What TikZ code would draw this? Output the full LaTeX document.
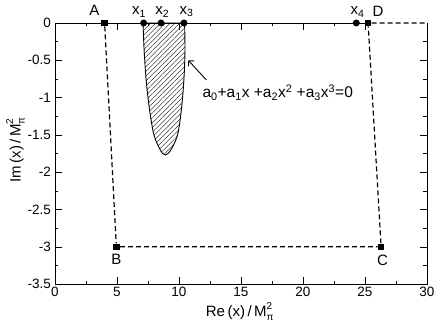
\documentclass[tikz,border=0pt]{standalone}
\usepackage{fontspec}
\setmainfont{Liberation Sans}
\usetikzlibrary{positioning,arrows.meta,patterns.meta}
\newcommand{\mpisq}{M\rlap{\raisebox{7.5pt}{\fontsize{10}{10}\selectfont 2}}\raisebox{-4pt}{\fontsize{10}{10}\selectfont π}}
\begin{document}
\begin{tikzpicture}[x=12.4pt,y=74.6pt,
  corner/.style={fill, rectangle, inner sep=0pt, minimum size=6.5pt},
  root/.style={fill, circle, inner sep=0pt, minimum size=7pt},
  lbl/.style={font=\fontsize{15}{17}\selectfont, inner sep=1pt},
  ticklbl/.style={font=\fontsize{13.5}{15}\selectfont, inner sep=0pt},
  contour/.style={dash pattern=on 5pt off 3pt, line width=1.2pt}]
\useasboundingbox (-4.435,-4.088) rectangle (30.726,0.308);
\draw[line width=0.9pt] (25.25,0) -- (0,0) -- (0,-3.5) -- (30,-3.5) -- (30,0);
\foreach \x in {0,5,...,30} \draw (\x,-3.5) -- ++(0,7pt);
\foreach \x in {2.5,7.5,...,27.5} \draw (\x,-3.5) -- ++(0,3.5pt);
\foreach \x in {5,10,...,25} \draw (\x,0) -- ++(0,-7pt);
\foreach \x in {2.5,7.5,...,22.5} \draw (\x,0) -- ++(0,-3.5pt);
\foreach \y in {-0.5,-1,...,-3} {
  \draw (0,\y) -- ++(7pt,0);
  \draw (30,\y) -- ++(-7pt,0);
}
\foreach \y in {-0.25,-0.75,...,-3.25} {
  \draw (0,\y) -- ++(3.5pt,0);
  \draw (30,\y) -- ++(-3.5pt,0);
}
\foreach \x in {0,5,...,30}
  \node[ticklbl, anchor=north, yshift=-3pt] (xt\x) at (\x,-3.5) {\x};
\foreach \y/\t [count=\i] in {0/0,-0.5/-0.5,-1/-1,-1.5/-1.5,-2/-2,-2.5/-2.5,-3/-3,-3.5/-3.5}
  \node[ticklbl, anchor=east, xshift=-4pt] (yt\i) at (0,\y) {\t};
\node[lbl, rotate=90] (ylab) at (-3.2,-1.70) {Im\,(x)\,/\,\mpisq};
\node[lbl] (xlab) at (14.9,-3.87) {Re\,(x)\,/\,\mpisq};
\draw[line width=0.9pt, pattern={Lines[angle=45,distance=3.4pt,line width=0.35pt]}]
  plot[smooth, tension=0.6] coordinates {(7.1,0) (7.2,-0.4) (7.4,-0.85) (7.75,-1.3) (8.12,-1.57) (8.9,-1.77) (9.74,-1.57) (10.09,-1.3) (10.36,-0.85) (10.48,-0.4) (10.45,0)} -- cycle;
\node[corner] (A) at (4,0) {};
\node[corner] (B) at (4.95,-3) {};
\node[corner] (C) at (26.3,-3) {};
\node[corner] (D) at (25.25,0) {};
\coordinate (E) at (30,0);
\draw[contour] (A) -- (B) -- (C) -- (D) -- (E);
\node[lbl, above left=3pt and 0.5pt of A] (la) {A};
\node[lbl, below=3pt of B] (lb) {B};
\node[lbl, below=4pt of C, xshift=1.5pt] (lc) {C};
\node[lbl, above right=2pt and 0pt of D] (ld) {D};
\node[root] (r1) at (7.15,0) {};
\node[root] (r2) at (8.55,0) {};
\node[root] (r3) at (10.4,0) {};
\node[root] (r4) at (24.3,0) {};
\node[lbl, above=1pt of r1, xshift=-4.5pt] (l1) {x\textsubscript{1}};
\node[lbl, above=1pt of r2, xshift=1.3pt] (l2) {x\textsubscript{2}};
\node[lbl, above=1pt of r3, xshift=2.7pt] (l3) {x\textsubscript{3}};
\node[lbl, above=1pt of r4, xshift=1.3pt] (l4) {x\textsubscript{4}};
\node[lbl, font=\fontsize{15.5}{17}\selectfont, anchor=base west] (eq) at (11.8,-1.005) {a\textsubscript{0}+a\textsubscript{1}x +a\textsubscript{2}x\textsuperscript{2} +a\textsubscript{3}x\textsuperscript{3}=0};
\coordinate (tip) at (10.75,-0.5);
\draw[line width=0.9pt, -{Straight Barb[length=4pt,width=8pt]}] ([shift={(5pt,4pt)}]eq.north west) -- (tip);
\end{tikzpicture}
\end{document}
